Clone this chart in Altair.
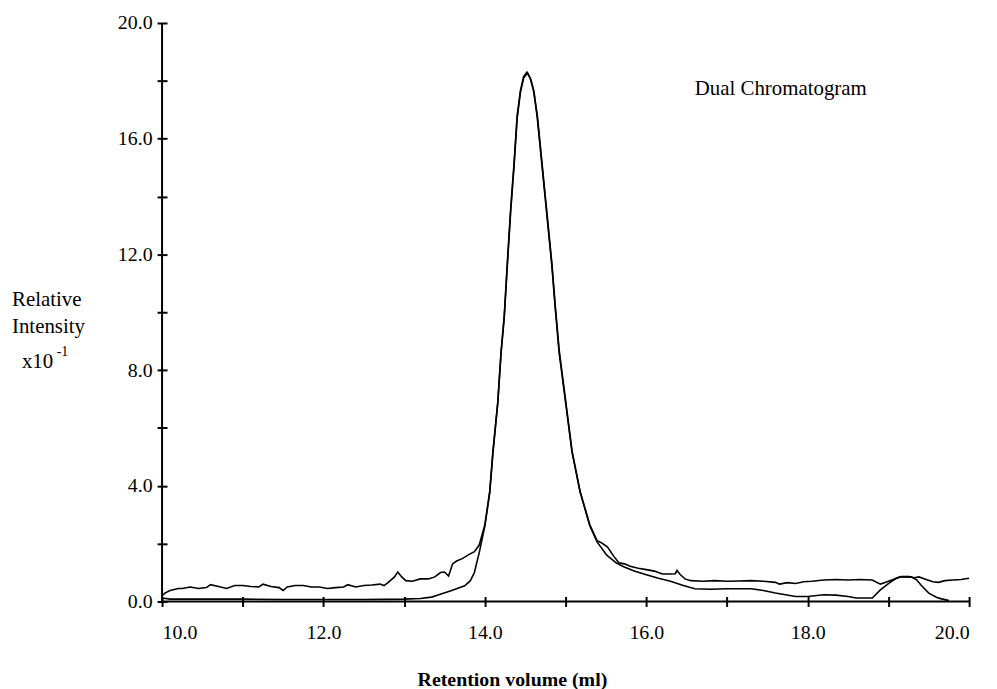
import altair as alt
import pandas as pd

# Detector 1 (smooth trace)
smooth_x = [10.0, 10.1, 10.5, 11.0, 11.5, 12.0, 12.5, 13.0, 13.2, 13.34, 13.42, 13.58, 13.75, 13.82,
            13.87, 13.93, 14.0, 14.06, 14.1, 14.16, 14.2, 14.24, 14.28, 14.32, 14.36, 14.40, 14.44,
            14.48, 14.53, 14.57, 14.61, 14.65, 14.71, 14.77, 14.83, 14.87, 14.92, 15.0, 15.08, 15.18,
            15.3, 15.39, 15.51, 15.63, 15.72, 15.85, 16.0, 16.15, 16.3, 16.45, 16.6, 16.8, 17.0, 17.3,
            17.45, 17.6, 17.85, 18.0, 18.2, 18.35, 18.5, 18.6, 18.8, 18.9, 19.0, 19.1, 19.16, 19.28,
            19.35, 19.4, 19.5, 19.6, 19.66, 19.75]
smooth_y = [0.12, 0.08, 0.08, 0.08, 0.07, 0.07, 0.07, 0.08, 0.1, 0.15, 0.22, 0.37, 0.54, 0.72,
            1.0, 1.69, 2.61, 3.76, 5.14, 6.86, 8.58, 9.8, 11.7, 13.5, 15.0, 16.7, 17.6,
            18.1, 18.27, 18.05, 17.6, 16.7, 15.0, 13.3, 11.6, 10.2, 8.6, 6.88, 5.16, 3.78,
            2.62, 2.06, 1.6, 1.33, 1.2, 1.05, 0.92, 0.8, 0.7, 0.56, 0.44, 0.42, 0.44, 0.44,
            0.38, 0.29, 0.17, 0.17, 0.23, 0.22, 0.17, 0.12, 0.12, 0.4, 0.62, 0.81, 0.86, 0.85,
            0.75, 0.58, 0.29, 0.14, 0.09, 0.03]

# Detector 2 (noisy trace)
noisy_x = [10.0, 10.04, 10.1, 10.2, 10.25, 10.35, 10.45, 10.55, 10.6, 10.7, 10.8, 10.9, 11.0, 11.1,
           11.2, 11.25, 11.35, 11.45, 11.5, 11.55, 11.65, 11.75, 11.85, 11.95, 12.05, 12.15, 12.25,
           12.3, 12.4, 12.5, 12.6, 12.7, 12.75, 12.8, 12.88, 12.92, 12.97, 13.02, 13.1, 13.2, 13.3,
           13.38, 13.45, 13.5, 13.55, 13.6, 13.65, 13.72, 13.8, 13.87, 13.93,
           14.0, 14.06, 14.1, 14.16, 14.2, 14.24, 14.28, 14.32, 14.36, 14.40, 14.44, 14.48, 14.52,
           14.56, 14.6, 14.65, 14.71, 14.77, 14.83, 14.87, 14.92, 15.0, 15.08, 15.18, 15.3, 15.39,
           15.45, 15.52, 15.6, 15.66, 15.73, 15.8, 15.9, 16.0, 16.1, 16.2, 16.3, 16.36, 16.38, 16.42,
           16.48, 16.55, 16.7, 16.85, 17.0, 17.15, 17.3, 17.45, 17.6, 17.65, 17.75, 17.85, 17.95,
           18.05, 18.2, 18.35, 18.5, 18.65, 18.8, 18.9, 18.95, 19.05, 19.15, 19.25, 19.32, 19.38,
           19.45, 19.55, 19.62, 19.7, 19.8, 19.9, 20.0]
noisy_y = [0.2, 0.3, 0.38, 0.45, 0.45, 0.5, 0.45, 0.48, 0.58, 0.52, 0.45, 0.55, 0.55, 0.52,
           0.5, 0.6, 0.52, 0.48, 0.38, 0.5, 0.55, 0.55, 0.5, 0.5, 0.45, 0.48, 0.5,
           0.58, 0.5, 0.55, 0.57, 0.6, 0.55, 0.65, 0.85, 1.02, 0.85, 0.72, 0.7, 0.78, 0.78,
           0.85, 1.0, 1.02, 0.88, 1.3, 1.4, 1.48, 1.62, 1.72, 1.95,
           2.65, 3.8, 5.2, 6.9, 8.6, 9.9, 11.8, 13.6, 15.1, 16.8, 17.65, 18.15, 18.3,
           18.1, 17.7, 16.8, 15.1, 13.4, 11.7, 10.3, 8.7, 6.95, 5.2, 3.8, 2.65, 2.1,
           2.02, 1.88, 1.55, 1.34, 1.3, 1.22, 1.15, 1.1, 1.05, 0.95, 0.95, 0.96, 1.07, 0.93,
           0.78, 0.72, 0.7, 0.72, 0.7, 0.71, 0.72, 0.7, 0.66, 0.6, 0.65, 0.62, 0.68,
           0.7, 0.74, 0.76, 0.74, 0.76, 0.74, 0.6, 0.65, 0.75, 0.85, 0.86, 0.82, 0.85,
           0.78, 0.68, 0.66, 0.72, 0.74, 0.76, 0.8]

x_ticks = [10, 11, 12, 13, 14, 15, 16, 17, 18, 19, 20]
y_ticks = [0, 2, 4, 6, 8, 10, 12, 14, 16, 18, 20]

FONT = "Liberation Serif"

df = pd.concat([
    pd.DataFrame({"v": smooth_x, "i": smooth_y, "trace": "detector 1"}),
    pd.DataFrame({"v": noisy_x, "i": noisy_y, "trace": "detector 2"}),
])

xscale = alt.Scale(domain=[10, 20], nice=False, zero=False)
yscale = alt.Scale(domain=[0, 20], nice=False, zero=False)

xaxis = alt.Axis(values=x_ticks, labelExpr="datum.value % 2 == 0 ? format(datum.value, '.1f') : ''",
                 offset=-5, tickSize=10, tickWidth=2, tickColor="black", domain=False, grid=False,
                 labelFont=FONT, labelFontSize=20, labelColor="black", labelPadding=16,
                 title="Retention volume (ml)", titleFont=FONT, titleFontSize=20, titleFontWeight="bold",
                 titleColor="black", titleX=352, titleY=90, titleAlign="center", titleBaseline="alphabetic")
yaxis = alt.Axis(values=y_ticks, labelExpr="datum.value % 4 == 0 ? format(datum.value, '.1f') : ''",
                 offset=-5, tickSize=10, tickWidth=2, tickColor="black", domain=False, grid=False,
                 labelFont=FONT, labelFontSize=20, labelColor="black", labelPadding=5, title=None)

lines = alt.Chart(df).mark_line(color="black", strokeWidth=1.6).encode(
    x=alt.X("v:Q", scale=xscale, axis=xaxis),
    y=alt.Y("i:Q", scale=yscale, axis=yaxis),
    detail="trace:N",
)

xdom = alt.Chart(pd.DataFrame({"a": [10]})).mark_rule(color="black", strokeWidth=2).encode(
    x=alt.datum(10, scale=xscale), x2=alt.datum(20), y=alt.datum(0, scale=yscale))
ydom = alt.Chart(pd.DataFrame({"a": [10]})).mark_rule(color="black", strokeWidth=2).encode(
    x=alt.datum(10), y=alt.datum(0), y2=alt.datum(20))

title_txt = alt.Chart(pd.DataFrame({"a": [1]})).mark_text(
    font=FONT, fontSize=21, align="left", baseline="middle", color="black").encode(
    x=alt.datum(16.6), y=alt.datum(17.7), text=alt.value("Dual Chromatogram"))

def label(t, px, py, size=21):
    return alt.Chart(pd.DataFrame({"a": [1]})).mark_text(
        font=FONT, fontSize=size, align="left", baseline="middle", color="black").encode(
        x=alt.value(px), y=alt.value(py), text=alt.value(t))

chart = alt.layer(
    lines, xdom, ydom, title_txt,
    label("Relative", -151, 279),
    label("Intensity", -151, 306),
    label("x10", -141, 341),
    label("-1", -106, 331, 14),
).properties(
    width=812, height=582,
    autosize=alt.AutoSizeParams(type="none"),
    padding={"left": 155, "top": 13, "right": 20, "bottom": 92},
).configure_view(stroke=None)

chart.save("out.html", embed_options={"renderer": "svg", "actions": False})
